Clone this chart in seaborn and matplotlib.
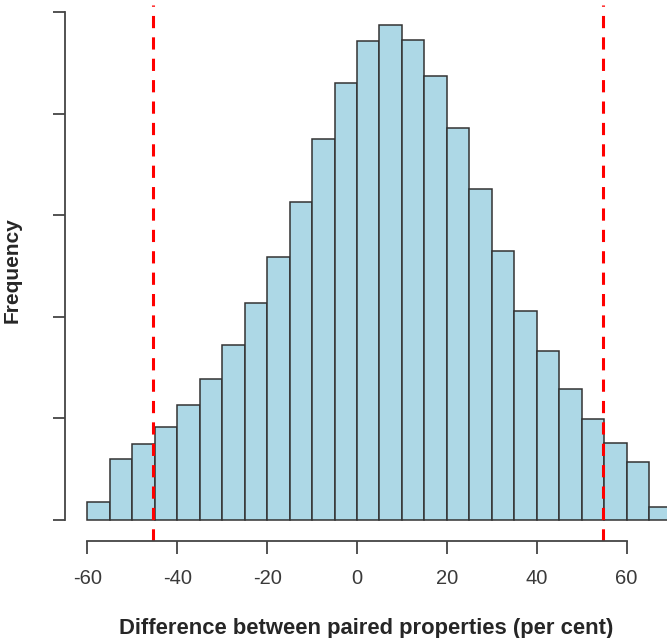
import seaborn as sns
import matplotlib.pyplot as plt
import numpy as np

# bins of width 5 from -60 to 70
bin_edges = [-60, -55, -50, -45, -40, -35, -30, -25, -20, -15, -10, -5, 0,
             5, 10, 15, 20, 25, 30, 35, 40, 45, 50, 55, 60, 65, 70]
counts = [18, 60, 75, 92, 113, 139, 172, 214, 259, 313, 375, 430, 472,
          487, 473, 437, 386, 326, 265, 206, 166, 129, 99, 76, 57, 13]
limits = [-45.5, 54.8]
x_ticks = [-60, -40, -20, 0, 20, 40, 60]
y_ticks = [0, 100, 200, 300, 400, 500]

sns.set_style("white")
plt.rcParams['font.family'] = ['Liberation Sans', 'DejaVu Sans']
plt.rcParams['axes.unicode_minus'] = False

mids = [(a + b) / 2 for a, b in zip(bin_edges[:-1], bin_edges[1:])]

fig = plt.figure(figsize=(6.67, 6.38), dpi=100)
ax = fig.add_axes([0.0975, 0.152, 0.9025, 0.84])

sns.histplot(x=mids, weights=counts, bins=bin_edges, color="#ADD8E6",
             edgecolor="#333333", linewidth=1.1, alpha=1, ax=ax)

for v in limits:
    ax.axvline(v, color="red", linestyle=(0, (4, 3)), linewidth=2.2)

ax.set_xlim(-65, 69)
ax.set_ylim(-20.7, 507)

ax.set_xticks(x_ticks)
ax.set_yticks(y_ticks)
ax.set_yticklabels([])
ax.tick_params(axis='both', direction='out', length=9, width=1.3,
               color="#444444", labelsize=14.5, labelcolor="#3a3a3a", pad=11)
ax.tick_params(axis='both', bottom=True, left=True)

for side in ["top", "right"]:
    ax.spines[side].set_visible(False)
ax.spines["left"].set_bounds(0, 500)
ax.spines["bottom"].set_bounds(-60, 60)
for side in ["left", "bottom"]:
    ax.spines[side].set_color("#444444")
    ax.spines[side].set_linewidth(1.3)

ax.set_xlabel("Difference between paired properties (per cent)",
              fontsize=15.8, fontweight="bold")
ax.xaxis.set_label_coords(0.5, -0.144)
ax.set_ylabel("Frequency", fontsize=15, fontweight="bold")
ax.yaxis.set_label_coords(-0.0714, 0.506)

fig.savefig("out.png", dpi=100)
